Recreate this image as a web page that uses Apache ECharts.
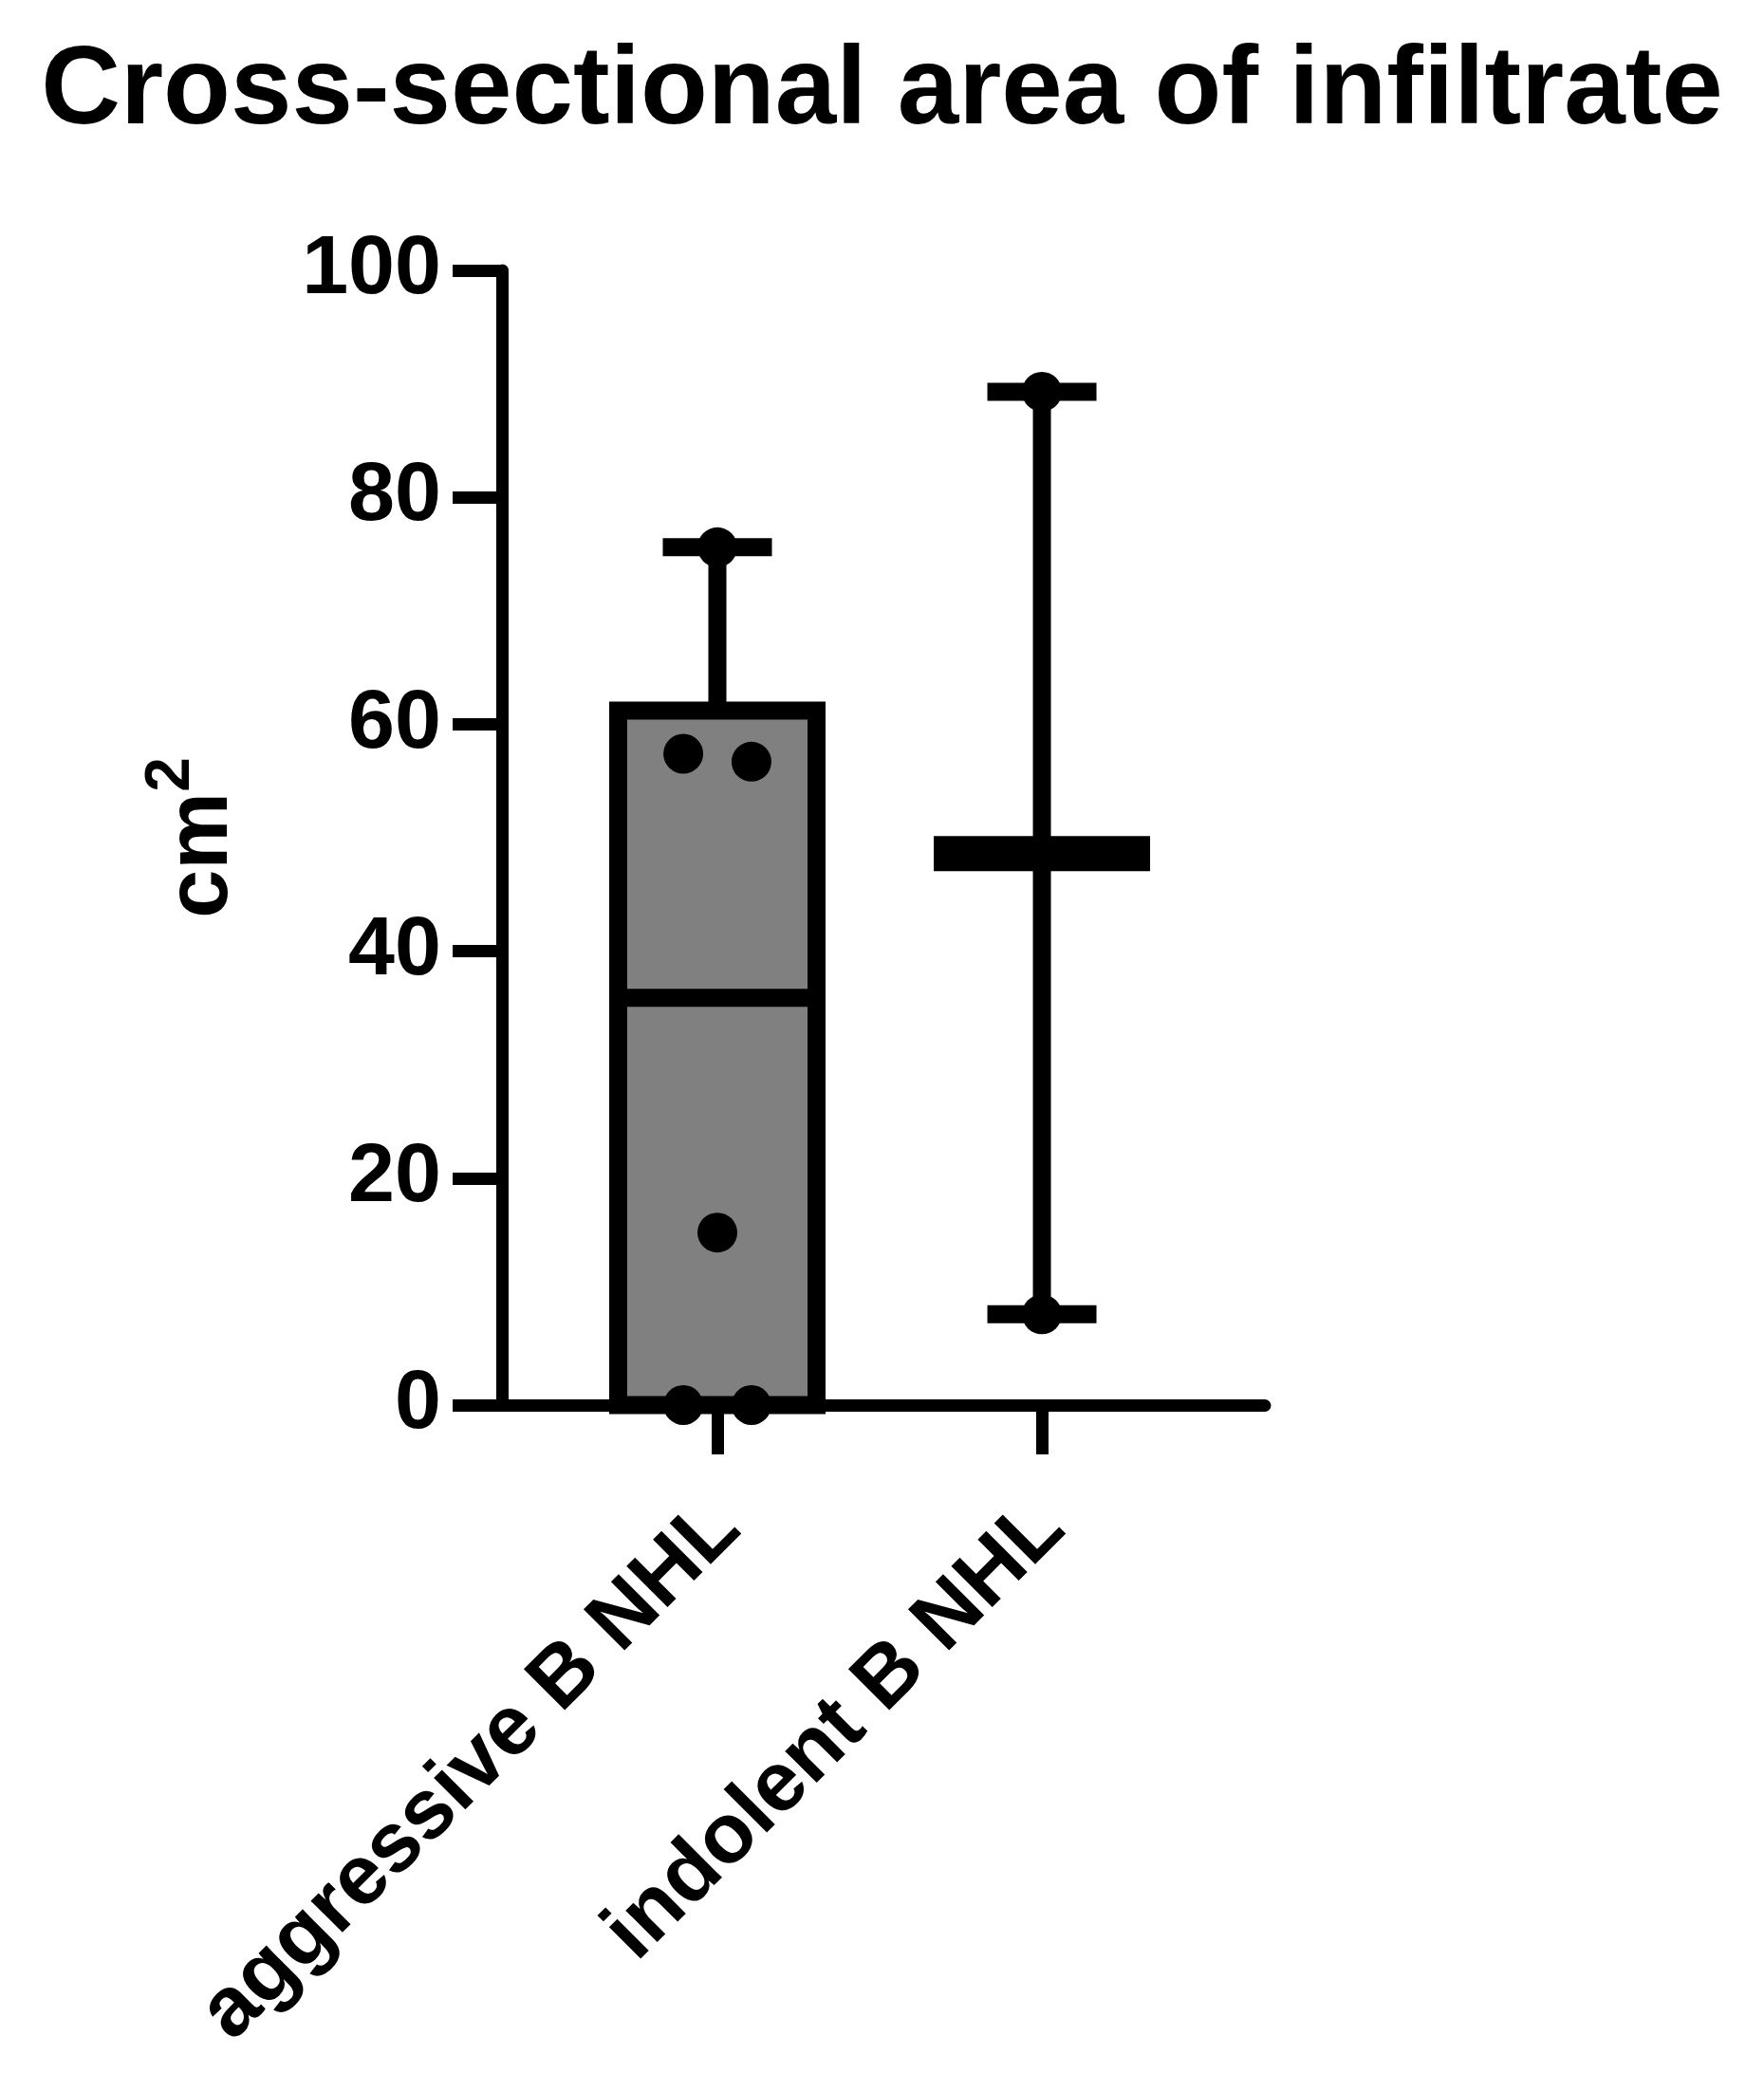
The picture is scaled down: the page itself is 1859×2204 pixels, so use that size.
<!DOCTYPE html>
<html>
<head>
<meta charset="utf-8">
<title>Cross-sectional area of infiltrate</title>
<script src="https://cdn.jsdelivr.net/npm/echarts@6/dist/echarts.min.js"></script>
<style>
  html, body { margin: 0; padding: 0; background: #fff; }
  #chart { width: 1859px; height: 2204px; }
</style>
</head>
<body>
<div id="chart"></div>
<script>
	// group names and their x positions on the value axis
	var categories = ['aggressive B NHL', 'indolent B NHL'];
	var catPos = [1, 2];

	// summary per group (cm2)
	var boxTops = [61.2, null];
	var medians = [35.9, 48.6];
	var whiskerLows = [0, 8.0];
	var whiskerHighs = [75.6, 89.3];

	// individual values [x, value]
	var aggressivePts = [[0.895, 0], [1.105, 0], [1, 15.2], [0.895, 57.4], [1.105, 56.7], [1, 75.6]];
	var indolentPts = [[2, 89.3], [2, 8.0]];

	var FONT = "'Liberation Sans', Arial, sans-serif";

	var myChart = echarts.init(document.getElementById('chart'));

	function renderGroup(params, api) {
		var i = params.dataIndex;
		var x = catPos[i];
		var cx = api.coord([x, 0])[0];
		var yOf = function (v) { return api.coord([x, v])[1]; };
		var black = { fill: '#000' };
		var children = [];
		// whisker
		children.push({
			type: 'line',
			shape: { x1: cx, y1: yOf(whiskerLows[i]), x2: cx, y2: yOf(whiskerHighs[i]) },
			style: { stroke: '#000', lineWidth: 19 }
		});
		var hasBox = boxTops[i] != null;
		if (hasBox) {
			var top = yOf(boxTops[i]);
			children.push({
				type: 'rect',
				shape: { x: cx - 104.5, y: top, width: 209, height: yOf(0) - top },
				style: { fill: '#808080', stroke: '#000', lineWidth: 19 }
			});
		}
		// median
		var mt = hasBox ? 19 : 37;
		children.push({
			type: 'rect',
			shape: { x: cx - 114, y: yOf(medians[i]) - mt / 2, width: 228, height: mt },
			style: black
		});
		// caps
		children.push({
			type: 'rect',
			shape: { x: cx - 57.5, y: yOf(whiskerHighs[i]) - 9.5, width: 115, height: 19 },
			style: black
		});
		if (!hasBox) {
			children.push({
				type: 'rect',
				shape: { x: cx - 57.5, y: yOf(whiskerLows[i]) - 9.5, width: 115, height: 19 },
				style: black
			});
		}
		return { type: 'group', children: children };
	}

	var option = {
		backgroundColor: '#fff',
		animation: false,
		title: {
			text: 'Cross-sectional area of infiltrate',
			left: 'center',
			top: 35,
			textStyle: { fontFamily: FONT, fontSize: 116, fontWeight: 'bold', color: '#000' }
		},
		grid: { left: 529, right: 526, top: 285, bottom: 723, outerBoundsMode: 'none' },
		xAxis: {
			type: 'value',
			min: 0.3363,
			max: 2.687,
			splitLine: { show: false },
			axisLine: { show: true, onZero: false, lineStyle: { color: '#000', width: 13 } },
			axisTick: { show: true, customValues: catPos, length: 52, lineStyle: { color: '#000', width: 13 } },
			axisLabel: {
				customValues: catPos,
				rotate: 45,
				margin: 126,
				padding: [0, -14, 0, 0],
				color: '#000',
				fontFamily: FONT,
				fontSize: 89,
				fontWeight: 'bold',
				formatter: function (v) { return categories[Math.round(v) - 1] || ''; }
			}
		},
		yAxis: {
			type: 'value',
			min: 0,
			max: 100,
			interval: 20,
			name: '{b|cm}{s|2}',
			nameLocation: 'middle',
			nameRotate: 90,
			nameGap: 249,
			nameTextStyle: {
				rich: {
					b: { fontFamily: FONT, fontSize: 92, fontWeight: 'bold', color: '#000', lineHeight: 132 },
					s: { fontFamily: FONT, fontSize: 66, fontWeight: 'bold', color: '#000', lineHeight: 66, verticalAlign: 'top' }
				}
			},
			splitLine: { show: false },
			axisLine: { show: true, lineStyle: { color: '#000', width: 13 } },
			axisTick: { show: true, length: 52, lineStyle: { color: '#000', width: 13 } },
			axisLabel: { margin: 64, color: '#000', fontFamily: FONT, fontSize: 88, fontWeight: 'bold' }
		},
		series: [
			{
				type: 'custom',
				renderItem: renderGroup,
				data: categories.map(function (c, i) { return [catPos[i], medians[i]]; }),
				z: 2
			},
			{
				type: 'scatter',
				data: aggressivePts.concat(indolentPts),
				symbol: 'circle',
				symbolSize: 42,
				itemStyle: { color: '#000', opacity: 1 },
				z: 3
			}
		]
	};

	myChart.setOption(option);
</script>
</body>
</html>
